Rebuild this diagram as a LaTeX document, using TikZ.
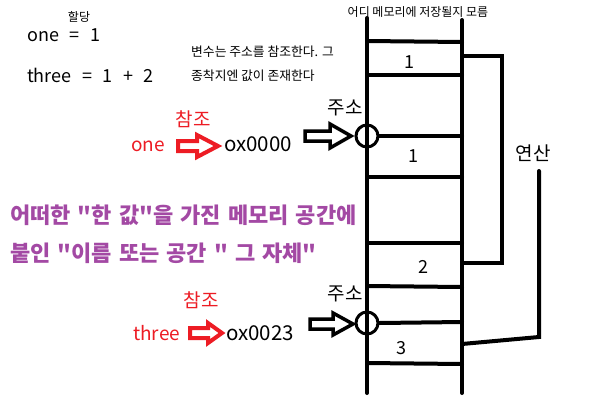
\documentclass[tikz,border=0pt]{standalone}
\usepackage{fontspec}
\setmainfont{Noto Sans CJK KR}
\newfontfamily\purpfont[WordSpace=1.4]{Noto Sans CJK KR}
\definecolor{pred}{HTML}{ED1C24}
\definecolor{ppurple}{HTML}{A349A4}
\newcommand\dq{\char34\relax}
\newcommand\gap{\hspace{10.5pt}}
\newcommand\fatarrow[6]{% x0, xh, x1, y, body half, head half
  (#1,#4-#5) -- (#2,#4-#5) -- (#2,#4-#6) -- (#3,#4) -- (#2,#4+#6) -- (#2,#4+#5) -- (#1,#4+#5) -- cycle}
\begin{document}
\begin{tikzpicture}[x=1pt,y=-1pt,
  lad/.style={line width=4pt,line cap=round},
  big/.style={inner sep=0pt,font=\fontsize{18}{20}\selectfont},
  eqn/.style={inner sep=0pt,anchor=west,font=\fontsize{18}{20}\selectfont},
  small/.style={inner sep=0pt,font=\fontsize{12}{14}\selectfont},
  ref/.style={inner sep=0pt,text=pred,font=\fontsize{19}{21}\selectfont},
  addr/.style={inner sep=0pt,font=\fontsize{19}{21}\selectfont},
  oxst/.style={inner sep=0pt,anchor=west,font=\fontsize{20.5}{22}\selectfont},
  purp/.style={inner sep=0pt,anchor=west,text=ppurple,font=\purpfont\fontsize{22}{24}\bfseries\selectfont},
  blkarrow/.style={draw=black,line width=3.5pt,line join=miter},
  redarrow/.style={draw=pred,line width=4pt,line join=miter},
  ring/.style={circle,draw,line width=3pt,minimum size=22pt,inner sep=0pt}]
\useasboundingbox[fill=white] (0,0) rectangle (600,400);
% top left texts
\node[small] (alloc) at (79,17) {할당};
\node[eqn] (one) at (27,35) {one\gap=\gap 1};
\node[eqn] (three) at (27,75) {three\gap=\gap 1\gap+\gap 2};
\node[small,anchor=west,font=\fontsize{12.8}{14}\selectfont] (note1) at (191,52) {변수는 주소를 참조한다. 그};
\node[small,anchor=west,font=\fontsize{12.8}{14}\selectfont] (note2) at (191,76) {종착지엔 값이 존재한다};
\node[small] (where) at (418,12) {어디 메모리에 저장될지 모름};
% ladder
\coordinate (L0) at (367,18); \coordinate (L1) at (367,393);
\coordinate (R0) at (462,20); \coordinate (R1) at (462,393);
\draw[lad] (L0) -- (L1);
\draw[lad] (R0) -- (R1);
\node[ring] (c1) at (367,136) {};
\node[ring] (c2) at (367,323) {};
\draw[lad] (367,41) -- (462,42);
\draw[lad] (367,75) -- (462,75);
\draw[lad] (c1.east) -- (462,136);
\draw[lad] (367,177) -- (462,177);
\draw[lad] (367,243) -- (462,243);
\draw[lad] (367,286) -- (462,287);
\draw[lad] (c2.east) -- (462,322);
\draw[lad] (367,363) -- (462,364);
\node[big] (v1) at (409,62) {1};
\node[big] (v2) at (413,156) {1};
\node[big] (v3) at (423,267) {2};
\node[big] (v4) at (401,348) {3};
% operation brackets
\draw[lad] (462,56) -- (502,56) -- (502,263) -- (462,263);
\draw[lad] (539,171) -- (539,337) -- (462,344);
\node[addr] (op) at (533,153) {연산};
% address labels and arrows
\node[addr] (addr1) at (345,108) {주소};
\node[addr] (addr2) at (345,294) {주소};
\draw[blkarrow] \fatarrow{305}{330}{351}{136}{5}{12};
\draw[blkarrow] \fatarrow{310}{333}{353}{324}{5}{11};
% references
\node[ref] (ref1) at (193,119) {참조};
\node[ref] (ref2) at (201,300) {참조};
\node[ref,anchor=west] (rone) at (131,146) {one};
\node[ref,anchor=west] (rthree) at (133,333) {three};
\node[oxst] (ox1) at (224,144) {ox0000};
\node[oxst] (ox2) at (226,333) {ox0023};
\draw[redarrow] \fatarrow{178}{197}{218}{146}{5}{11};
\draw[redarrow] \fatarrow{190}{208}{222}{333}{5}{10};
% purple statement
\node[purp] (st1) at (10,215) {어떠한 \dq 한 값\dq 을 가진 메모리 공간에};
\node[purp] (st2) at (10,253) {붙인 \dq 이름 또는 공간 \dq\ 그 자체\dq};
\end{tikzpicture}
\end{document}
